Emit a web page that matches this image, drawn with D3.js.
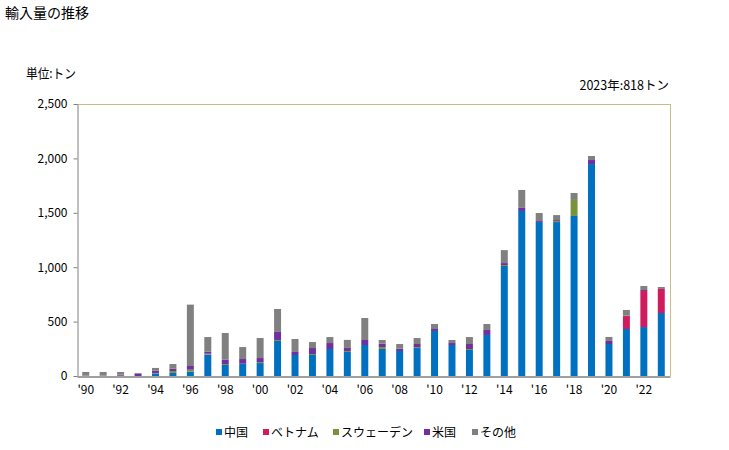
<!DOCTYPE html>
<html><head><meta charset="utf-8">
<script src="https://cdn.jsdelivr.net/npm/d3@7"></script>
<style>body{margin:0;background:#fff}svg{display:block}text{font-family:"Noto Sans CJK JP","Noto Sans",sans-serif;fill:#000}</style>
</head><body><svg id="c" width="729" height="450"></svg>
<script>
const years = d3.range(1990, 2024);
const seriesNames = ["中国","ベトナム","スウェーデン","米国","その他"];
const colors = ["#0070c0","#d01c5e","#77933c","#7030a0","#808080"];
const china   = [0,0,0,0,24,28,40,196,101,113,119,322,193,193,248,221,285,248,230,257,414,285,239,377,1011,1517,1415,1415,1471,1948,294,432,450,579];
const vietnam = [0,0,0,0,0,0,0,0,0,0,0,0,0,0,0,0,0,0,0,0,0,0,0,0,0,0,0,0,0,0,0,119,331,221];
const sweden  = [3,3,3,0,4,18,18,9,9,0,9,9,0,9,0,9,0,18,0,9,0,0,9,0,9,0,0,9,147,0,0,7,0,0];
const usa     = [0,0,9,21,20,21,34,18,40,43,37,74,28,55,55,28,46,31,21,28,18,18,46,46,18,28,9,9,0,37,28,0,9,0];
const other   = [34,34,25,7,26,43,564,135,245,110,184,211,119,55,55,74,202,34,43,55,46,28,64,55,119,165,74,46,64,37,37,49,37,18];
const yTicks = [0,500,1000,1500,2000,2500];

const svg = d3.select("#c");
const m = {l:77, r:670, t:104, b:376};
const x = d3.scaleBand().domain(years).range([m.l, m.r]).paddingInner(0.6).paddingOuter(0.3);
const y = d3.scaleLinear().domain([0,2500]).range([m.b, m.t]);

const rows = years.map((yr,i)=>({year:yr, "中国":china[i], "ベトナム":vietnam[i], "スウェーデン":sweden[i], "米国":usa[i], "その他":other[i]}));
const stack = d3.stack().keys(seriesNames)(rows);

// frame
svg.append("line").attr("x1",m.l).attr("x2",m.r).attr("y1",m.t+0.5).attr("y2",m.t+0.5).attr("stroke","#c8bc8c");
svg.append("line").attr("x1",m.r+0.5).attr("x2",m.r+0.5).attr("y1",m.t).attr("y2",m.b).attr("stroke","#c8bc8c");

svg.selectAll("g.s").data(stack).join("g").attr("fill",(d,i)=>colors[i])
  .selectAll("rect").data(d=>d).join("rect")
  .attr("x",d=>x(d.data.year)).attr("width",x.bandwidth())
  .attr("y",d=>y(d[1])).attr("height",d=>Math.max(0,y(d[0])-y(d[1])));

// y axis
const ya = svg.append("g").attr("transform",`translate(${m.l+0.5},0)`)
  .call(d3.axisLeft(y).tickValues(yTicks).tickFormat(d3.format(",")).tickSize(4).tickSizeOuter(0));
ya.select(".domain").attr("stroke","#808080");
ya.selectAll(".tick line").attr("stroke","#808080");
ya.selectAll(".tick text").attr("font-size",12).attr("x",-10).style("font-family",'"Noto Sans CJK JP",sans-serif');

// x axis
const xa = svg.append("g").attr("transform",`translate(0,${m.b+0.5})`)
  .call(d3.axisBottom(x).tickValues(years.filter(v=>v%2===0)).tickFormat(v=>"'"+String(v).slice(2)).tickSize(0).tickSizeOuter(0));
xa.select(".domain").attr("stroke","#808080").attr("stroke-width",1.5);
xa.selectAll(".tick text").attr("font-size",12).attr("dy","1.2em").style("font-family",'"Noto Sans CJK JP",sans-serif');

// texts
svg.append("text").attr("x",5).attr("y",18).attr("font-size",14).text("輸入量の推移");
svg.append("text").attr("x",26).attr("y",78).attr("font-size",13).attr("textLength",50).attr("lengthAdjust","spacingAndGlyphs").text("単位:トン");
svg.append("text").attr("x",669).attr("y",90).attr("font-size",12.5).attr("text-anchor","end").text("2023年:818トン");

// legend
const legX = [216,263,333,424,472];
const lg = svg.append("g");
seriesNames.forEach((n,i)=>{
  lg.append("rect").attr("x",legX[i]).attr("y",429).attr("width",6).attr("height",6).attr("fill",colors[i]);
  lg.append("text").attr("x",legX[i]+8).attr("y",437).attr("font-size",12).text(n);
});
</script></body></html>
